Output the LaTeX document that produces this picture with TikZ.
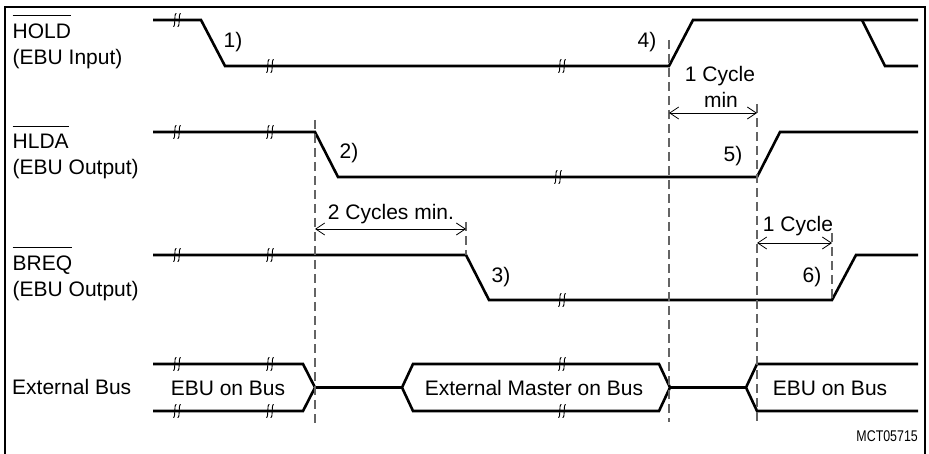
\documentclass[tikz,border=0pt]{standalone}
\usepackage{fontspec}
\setmainfont{Liberation Sans}
\usepackage{tikz}
\usepackage{xcolor}
\definecolor{GuideGrey}{RGB}{100, 100, 100}
\usetikzlibrary{arrows.meta}
\newcommand{\ovl}[1]{\setbox0=\hbox{#1}\rlap{\raisebox{\dimexpr\ht0+8pt\relax}{\rule{\wd0}{0.9pt}}}\box0}

\begin{document}
\begin{tikzpicture}[x=1pt, y=-1pt,
    wave/.style={line width=2.6pt},
    guide/.style={GuideGrey, line width=1.1pt, dash pattern=on 9pt off 5pt},
    dim/.style={{Straight Barb[length=9pt,width=12pt]}-{Straight Barb[length=9pt,width=12pt]}, line width=0.8pt},
    txt/.style={font=\fontsize{21}{25}\selectfont, inner sep=0pt},
    brk/.pic={
        \foreach \d in {-2.2,2.2}
            \draw[line width=0.9pt] (\d+1.6,-6.5) .. controls (\d+0.2,-7) and (\d,-3) .. (\d,0)
                                    .. controls (\d,3) and (\d-0.2,7) .. (\d-1.6,6.5);
    }
]
\useasboundingbox (0,0) rectangle (929,454);

% Frame
\draw[line width=1.3pt] (5,454) -- (5,7) -- (925,7) -- (925,454);

% Signal names
\node[txt, anchor=base west] (hold) at (12.5,39) {\ovl{HOLD}};
\node[txt, anchor=base west] (holdio) at (12.5,65) {(EBU Input)};
\node[txt, anchor=base west] (hlda) at (12.5,149) {\ovl{HLDA}};
\node[txt, anchor=base west] (hldaio) at (12.5,175) {(EBU Output)};
\node[txt, anchor=base west] (breq) at (12.5,271) {\ovl{BREQ}};
\node[txt, anchor=base west] (breqio) at (12.5,297) {(EBU Output)};
\node[txt, anchor=base west] (bus) at (12,394) {External Bus};

% Waveforms
% HOLD
\draw[wave] (153,20) -- (201,20) -- (225,66) -- (669,66) -- (693,20) -- (918,20);
\draw[wave] (862,20) -- (885,66) -- (918,66);
% HLDA
\draw[wave] (153,132) -- (315,132) -- (338,177) -- (757,177) -- (780,132) -- (918,132);
% BREQ
\draw[wave] (153,255) -- (466,255) -- (489,300) -- (832,300) -- (856,255) -- (918,255);
% External bus
\draw[wave] (153,364) -- (303,364) -- (315,387.5) -- (303,411) -- (153,411);
\draw[wave] (315,387.5) -- (402,387.5);
\draw[wave] (413,364) -- (659,364) -- (670,387.5) -- (659,411) -- (413,411) -- (402,387.5) -- cycle;
\draw[wave] (670,387.5) -- (746,387.5);
\draw[wave] (918,364) -- (757,364) -- (746,387.5) -- (757,411) -- (918,411);

% Breaks
\foreach \x/\y in {177/20, 270/66, 562/66, 177/132, 270/132, 558/177,
                   177/255, 270/255, 562/300, 177/364, 270/364, 562/364,
                   177/411, 270/411, 562/411}
    \pic at (\x,\y) {brk};

% Event numbers
\node[txt, anchor=base] (ev1) at (233,48) {1)};
\node[txt, anchor=base] (ev2) at (349,159) {2)};
\node[txt, anchor=base] (ev3) at (501,283) {3)};
\node[txt, anchor=base] (ev4) at (647,48) {4)};
\node[txt, anchor=base] (ev5) at (733,162) {5)};
\node[txt, anchor=base] (ev6) at (812,283) {6)};

% Guide lines
\draw[guide] (315,120) -- (315,425);
\draw[guide] (466,222) -- (466,255);
\draw[guide] (669,40) -- (669,422);
\draw[guide] (757,104) -- (757,422);
\draw[guide] (832,233) -- (832,300);

% Timing arrows
\coordinate (hold4) at (669,113);
\coordinate (hlda5) at (757,113);
\coordinate (hlda2) at (315,229);
\coordinate (breq3) at (466,229);
\coordinate (hlda5b) at (757,243);
\coordinate (breq6) at (832,243);
\draw[dim] (hold4) -- (hlda5);
\draw[dim] (hlda2) -- (breq3);
\draw[dim] (hlda5b) -- (breq6);
\node[txt, anchor=base] (cyc1) at (720,82) {1 Cycle};
\node[txt, anchor=base] (cyc1m) at (721,108) {min};
\node[txt, anchor=base] (cyc2) at (391,220) {2 Cycles min.};
\node[txt, anchor=base] (cyc3) at (798,232) {1 Cycle};

% Bus owners
\node[txt, anchor=base] (busa) at (228,395) {EBU on Bus};
\node[txt, anchor=base] (busb) at (534,395) {External Master on Bus};
\node[txt, anchor=base] (busc) at (830,395) {EBU on Bus};

\node[anchor=base east, inner sep=0pt, font=\fontsize{15.5}{16}\selectfont] (code) at (918,441) {\scalebox{0.8}[1]{MCT05715}};

\end{tikzpicture}
\end{document}
